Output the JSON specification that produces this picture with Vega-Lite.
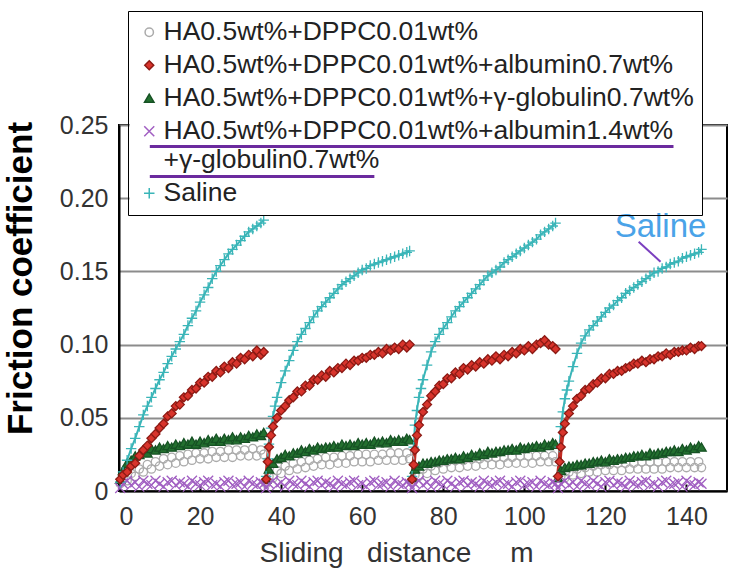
{
"$schema":"https://vega.github.io/schema/vega-lite/v6.json",
"width":608,"height":366,
"autosize":{"type":"none"},
"padding":{"left":119,"top":125,"right":21,"bottom":93},
"background":"white",
"config":{"view":{"stroke":"black","strokeWidth":2},"axis":{"labelFont":"Liberation Sans","titleFont":"Liberation Sans"}},
"data":{"values":[
{"s":"A","g":1,"x":0.3,"y":0.005},{"s":"A","g":1,"x":1,"y":0.008},{"s":"A","g":1,"x":2,"y":0.007},{"s":"A","g":1,"x":3,"y":0.012},{"s":"A","g":1,"x":4,"y":0.010},{"s":"A","g":1,"x":5,"y":0.015},{"s":"A","g":1,"x":6,"y":0.013},{"s":"A","g":1,"x":7,"y":0.018},{"s":"A","g":1,"x":8,"y":0.015},{"s":"A","g":1,"x":9,"y":0.020},{"s":"A","g":1,"x":10,"y":0.017},{"s":"A","g":1,"x":11,"y":0.022},{"s":"A","g":1,"x":12,"y":0.018},{"s":"A","g":1,"x":13,"y":0.023},{"s":"A","g":1,"x":14,"y":0.019},{"s":"A","g":1,"x":15,"y":0.024},{"s":"A","g":1,"x":16,"y":0.020},{"s":"A","g":1,"x":17,"y":0.025},{"s":"A","g":1,"x":18,"y":0.021},{"s":"A","g":1,"x":19,"y":0.026},{"s":"A","g":1,"x":20,"y":0.022},{"s":"A","g":1,"x":21,"y":0.026},{"s":"A","g":1,"x":22,"y":0.022},{"s":"A","g":1,"x":23,"y":0.027},{"s":"A","g":1,"x":24,"y":0.023},{"s":"A","g":1,"x":25,"y":0.027},{"s":"A","g":1,"x":26,"y":0.023},{"s":"A","g":1,"x":27,"y":0.028},{"s":"A","g":1,"x":28,"y":0.023},{"s":"A","g":1,"x":29,"y":0.028},{"s":"A","g":1,"x":30,"y":0.024},{"s":"A","g":1,"x":31,"y":0.028},{"s":"A","g":1,"x":32,"y":0.024},{"s":"A","g":1,"x":33,"y":0.029},{"s":"A","g":1,"x":34,"y":0.024},{"s":"A","g":1,"x":35,"y":0.028},{"s":"A","g":1,"x":35.7,"y":0.025},
{"s":"A","g":2,"x":36.3,"y":0.005},{"s":"A","g":2,"x":37,"y":0.010},{"s":"A","g":2,"x":38,"y":0.009},{"s":"A","g":2,"x":39,"y":0.014},{"s":"A","g":2,"x":40,"y":0.012},{"s":"A","g":2,"x":41,"y":0.017},{"s":"A","g":2,"x":42,"y":0.014},{"s":"A","g":2,"x":43,"y":0.019},{"s":"A","g":2,"x":44,"y":0.015},{"s":"A","g":2,"x":45,"y":0.020},{"s":"A","g":2,"x":46,"y":0.016},{"s":"A","g":2,"x":47,"y":0.021},{"s":"A","g":2,"x":48,"y":0.017},{"s":"A","g":2,"x":49,"y":0.022},{"s":"A","g":2,"x":50,"y":0.018},{"s":"A","g":2,"x":51,"y":0.023},{"s":"A","g":2,"x":52,"y":0.018},{"s":"A","g":2,"x":53,"y":0.023},{"s":"A","g":2,"x":54,"y":0.019},{"s":"A","g":2,"x":55,"y":0.024},{"s":"A","g":2,"x":56,"y":0.019},{"s":"A","g":2,"x":57,"y":0.024},{"s":"A","g":2,"x":58,"y":0.020},{"s":"A","g":2,"x":59,"y":0.025},{"s":"A","g":2,"x":60,"y":0.020},{"s":"A","g":2,"x":61,"y":0.025},{"s":"A","g":2,"x":62,"y":0.020},{"s":"A","g":2,"x":63,"y":0.025},{"s":"A","g":2,"x":64,"y":0.021},{"s":"A","g":2,"x":65,"y":0.025},{"s":"A","g":2,"x":66,"y":0.021},{"s":"A","g":2,"x":67,"y":0.026},{"s":"A","g":2,"x":68,"y":0.021},{"s":"A","g":2,"x":69,"y":0.026},{"s":"A","g":2,"x":70,"y":0.021},{"s":"A","g":2,"x":71,"y":0.026},{"s":"A","g":2,"x":71.7,"y":0.022},
{"s":"A","g":3,"x":72.3,"y":0.006},{"s":"A","g":3,"x":73,"y":0.011},{"s":"A","g":3,"x":74,"y":0.010},{"s":"A","g":3,"x":75,"y":0.015},{"s":"A","g":3,"x":76,"y":0.012},{"s":"A","g":3,"x":77,"y":0.017},{"s":"A","g":3,"x":78,"y":0.014},{"s":"A","g":3,"x":79,"y":0.019},{"s":"A","g":3,"x":80,"y":0.015},{"s":"A","g":3,"x":81,"y":0.020},{"s":"A","g":3,"x":82,"y":0.016},{"s":"A","g":3,"x":83,"y":0.021},{"s":"A","g":3,"x":84,"y":0.016},{"s":"A","g":3,"x":85,"y":0.021},{"s":"A","g":3,"x":86,"y":0.017},{"s":"A","g":3,"x":87,"y":0.022},{"s":"A","g":3,"x":88,"y":0.017},{"s":"A","g":3,"x":89,"y":0.022},{"s":"A","g":3,"x":90,"y":0.018},{"s":"A","g":3,"x":91,"y":0.023},{"s":"A","g":3,"x":92,"y":0.018},{"s":"A","g":3,"x":93,"y":0.023},{"s":"A","g":3,"x":94,"y":0.018},{"s":"A","g":3,"x":95,"y":0.023},{"s":"A","g":3,"x":96,"y":0.019},{"s":"A","g":3,"x":97,"y":0.023},{"s":"A","g":3,"x":98,"y":0.019},{"s":"A","g":3,"x":99,"y":0.024},{"s":"A","g":3,"x":100,"y":0.019},{"s":"A","g":3,"x":101,"y":0.024},{"s":"A","g":3,"x":102,"y":0.019},{"s":"A","g":3,"x":103,"y":0.024},{"s":"A","g":3,"x":104,"y":0.020},{"s":"A","g":3,"x":105,"y":0.024},{"s":"A","g":3,"x":106,"y":0.020},{"s":"A","g":3,"x":107,"y":0.024},{"s":"A","g":3,"x":107.7,"y":0.020},
{"s":"A","g":4,"x":108.3,"y":0.006},{"s":"A","g":4,"x":109,"y":0.010},{"s":"A","g":4,"x":110,"y":0.009},{"s":"A","g":4,"x":111,"y":0.013},{"s":"A","g":4,"x":112,"y":0.011},{"s":"A","g":4,"x":113,"y":0.015},{"s":"A","g":4,"x":114,"y":0.012},{"s":"A","g":4,"x":115,"y":0.016},{"s":"A","g":4,"x":116,"y":0.013},{"s":"A","g":4,"x":117,"y":0.017},{"s":"A","g":4,"x":118,"y":0.013},{"s":"A","g":4,"x":119,"y":0.018},{"s":"A","g":4,"x":120,"y":0.014},{"s":"A","g":4,"x":121,"y":0.018},{"s":"A","g":4,"x":122,"y":0.014},{"s":"A","g":4,"x":123,"y":0.019},{"s":"A","g":4,"x":124,"y":0.014},{"s":"A","g":4,"x":125,"y":0.019},{"s":"A","g":4,"x":126,"y":0.015},{"s":"A","g":4,"x":127,"y":0.019},{"s":"A","g":4,"x":128,"y":0.015},{"s":"A","g":4,"x":129,"y":0.020},{"s":"A","g":4,"x":130,"y":0.015},{"s":"A","g":4,"x":131,"y":0.020},{"s":"A","g":4,"x":132,"y":0.015},{"s":"A","g":4,"x":133,"y":0.020},{"s":"A","g":4,"x":134,"y":0.015},{"s":"A","g":4,"x":135,"y":0.020},{"s":"A","g":4,"x":136,"y":0.016},{"s":"A","g":4,"x":137,"y":0.020},{"s":"A","g":4,"x":138,"y":0.016},{"s":"A","g":4,"x":139,"y":0.020},{"s":"A","g":4,"x":140,"y":0.016},{"s":"A","g":4,"x":141,"y":0.020},{"s":"A","g":4,"x":142,"y":0.016},{"s":"A","g":4,"x":143,"y":0.020},{"s":"A","g":4,"x":143.7,"y":0.016},
{"s":"C","g":1,"x":0.3,"y":0.008},{"s":"C","g":1,"x":1,"y":0.014},{"s":"C","g":1,"x":2,"y":0.019},{"s":"C","g":1,"x":3,"y":0.021},{"s":"C","g":1,"x":4,"y":0.024},{"s":"C","g":1,"x":5,"y":0.025},{"s":"C","g":1,"x":6,"y":0.027},{"s":"C","g":1,"x":7,"y":0.026},{"s":"C","g":1,"x":8,"y":0.029},{"s":"C","g":1,"x":9,"y":0.028},{"s":"C","g":1,"x":10,"y":0.030},{"s":"C","g":1,"x":11,"y":0.029},{"s":"C","g":1,"x":12,"y":0.031},{"s":"C","g":1,"x":13,"y":0.030},{"s":"C","g":1,"x":14,"y":0.032},{"s":"C","g":1,"x":15,"y":0.031},{"s":"C","g":1,"x":16,"y":0.033},{"s":"C","g":1,"x":17,"y":0.032},{"s":"C","g":1,"x":18,"y":0.034},{"s":"C","g":1,"x":19,"y":0.032},{"s":"C","g":1,"x":20,"y":0.034},{"s":"C","g":1,"x":21,"y":0.033},{"s":"C","g":1,"x":22,"y":0.035},{"s":"C","g":1,"x":23,"y":0.034},{"s":"C","g":1,"x":24,"y":0.036},{"s":"C","g":1,"x":25,"y":0.034},{"s":"C","g":1,"x":26,"y":0.036},{"s":"C","g":1,"x":27,"y":0.035},{"s":"C","g":1,"x":28,"y":0.037},{"s":"C","g":1,"x":29,"y":0.035},{"s":"C","g":1,"x":30,"y":0.037},{"s":"C","g":1,"x":31,"y":0.036},{"s":"C","g":1,"x":32,"y":0.038},{"s":"C","g":1,"x":33,"y":0.037},{"s":"C","g":1,"x":34,"y":0.039},{"s":"C","g":1,"x":35,"y":0.038},{"s":"C","g":1,"x":35.7,"y":0.040},
{"s":"C","g":2,"x":36.3,"y":0.008},{"s":"C","g":2,"x":37,"y":0.015},{"s":"C","g":2,"x":38,"y":0.019},{"s":"C","g":2,"x":39,"y":0.022},{"s":"C","g":2,"x":40,"y":0.023},{"s":"C","g":2,"x":41,"y":0.025},{"s":"C","g":2,"x":42,"y":0.024},{"s":"C","g":2,"x":43,"y":0.026},{"s":"C","g":2,"x":44,"y":0.026},{"s":"C","g":2,"x":45,"y":0.028},{"s":"C","g":2,"x":46,"y":0.027},{"s":"C","g":2,"x":47,"y":0.029},{"s":"C","g":2,"x":48,"y":0.028},{"s":"C","g":2,"x":49,"y":0.030},{"s":"C","g":2,"x":50,"y":0.029},{"s":"C","g":2,"x":51,"y":0.030},{"s":"C","g":2,"x":52,"y":0.030},{"s":"C","g":2,"x":53,"y":0.031},{"s":"C","g":2,"x":54,"y":0.030},{"s":"C","g":2,"x":55,"y":0.032},{"s":"C","g":2,"x":56,"y":0.031},{"s":"C","g":2,"x":57,"y":0.032},{"s":"C","g":2,"x":58,"y":0.031},{"s":"C","g":2,"x":59,"y":0.033},{"s":"C","g":2,"x":60,"y":0.032},{"s":"C","g":2,"x":61,"y":0.033},{"s":"C","g":2,"x":62,"y":0.032},{"s":"C","g":2,"x":63,"y":0.034},{"s":"C","g":2,"x":64,"y":0.033},{"s":"C","g":2,"x":65,"y":0.034},{"s":"C","g":2,"x":66,"y":0.033},{"s":"C","g":2,"x":67,"y":0.035},{"s":"C","g":2,"x":68,"y":0.034},{"s":"C","g":2,"x":69,"y":0.035},{"s":"C","g":2,"x":70,"y":0.034},{"s":"C","g":2,"x":71,"y":0.036},{"s":"C","g":2,"x":71.7,"y":0.035},
{"s":"C","g":3,"x":72.3,"y":0.009},{"s":"C","g":3,"x":73,"y":0.015},{"s":"C","g":3,"x":74,"y":0.017},{"s":"C","g":3,"x":75,"y":0.019},{"s":"C","g":3,"x":76,"y":0.019},{"s":"C","g":3,"x":77,"y":0.020},{"s":"C","g":3,"x":78,"y":0.020},{"s":"C","g":3,"x":79,"y":0.021},{"s":"C","g":3,"x":80,"y":0.021},{"s":"C","g":3,"x":81,"y":0.022},{"s":"C","g":3,"x":82,"y":0.022},{"s":"C","g":3,"x":83,"y":0.023},{"s":"C","g":3,"x":84,"y":0.022},{"s":"C","g":3,"x":85,"y":0.024},{"s":"C","g":3,"x":86,"y":0.023},{"s":"C","g":3,"x":87,"y":0.025},{"s":"C","g":3,"x":88,"y":0.024},{"s":"C","g":3,"x":89,"y":0.026},{"s":"C","g":3,"x":90,"y":0.025},{"s":"C","g":3,"x":91,"y":0.027},{"s":"C","g":3,"x":92,"y":0.026},{"s":"C","g":3,"x":93,"y":0.027},{"s":"C","g":3,"x":94,"y":0.027},{"s":"C","g":3,"x":95,"y":0.028},{"s":"C","g":3,"x":96,"y":0.028},{"s":"C","g":3,"x":97,"y":0.029},{"s":"C","g":3,"x":98,"y":0.028},{"s":"C","g":3,"x":99,"y":0.030},{"s":"C","g":3,"x":100,"y":0.029},{"s":"C","g":3,"x":101,"y":0.030},{"s":"C","g":3,"x":102,"y":0.030},{"s":"C","g":3,"x":103,"y":0.031},{"s":"C","g":3,"x":104,"y":0.030},{"s":"C","g":3,"x":105,"y":0.032},{"s":"C","g":3,"x":106,"y":0.031},{"s":"C","g":3,"x":107,"y":0.033},{"s":"C","g":3,"x":107.7,"y":0.032},
{"s":"C","g":4,"x":108.3,"y":0.009},{"s":"C","g":4,"x":109,"y":0.014},{"s":"C","g":4,"x":110,"y":0.016},{"s":"C","g":4,"x":111,"y":0.017},{"s":"C","g":4,"x":112,"y":0.017},{"s":"C","g":4,"x":113,"y":0.018},{"s":"C","g":4,"x":114,"y":0.018},{"s":"C","g":4,"x":115,"y":0.019},{"s":"C","g":4,"x":116,"y":0.019},{"s":"C","g":4,"x":117,"y":0.020},{"s":"C","g":4,"x":118,"y":0.020},{"s":"C","g":4,"x":119,"y":0.021},{"s":"C","g":4,"x":120,"y":0.020},{"s":"C","g":4,"x":121,"y":0.022},{"s":"C","g":4,"x":122,"y":0.021},{"s":"C","g":4,"x":123,"y":0.022},{"s":"C","g":4,"x":124,"y":0.022},{"s":"C","g":4,"x":125,"y":0.023},{"s":"C","g":4,"x":126,"y":0.023},{"s":"C","g":4,"x":127,"y":0.024},{"s":"C","g":4,"x":128,"y":0.024},{"s":"C","g":4,"x":129,"y":0.025},{"s":"C","g":4,"x":130,"y":0.024},{"s":"C","g":4,"x":131,"y":0.026},{"s":"C","g":4,"x":132,"y":0.025},{"s":"C","g":4,"x":133,"y":0.026},{"s":"C","g":4,"x":134,"y":0.026},{"s":"C","g":4,"x":135,"y":0.027},{"s":"C","g":4,"x":136,"y":0.027},{"s":"C","g":4,"x":137,"y":0.028},{"s":"C","g":4,"x":138,"y":0.027},{"s":"C","g":4,"x":139,"y":0.029},{"s":"C","g":4,"x":140,"y":0.028},{"s":"C","g":4,"x":141,"y":0.030},{"s":"C","g":4,"x":142,"y":0.029},{"s":"C","g":4,"x":143,"y":0.031},{"s":"C","g":4,"x":143.7,"y":0.030},
{"s":"D","g":1,"x":0.3,"y":0.002},{"s":"D","g":1,"x":1,"y":0.005},{"s":"D","g":1,"x":2,"y":0.007},{"s":"D","g":1,"x":3,"y":0.004},{"s":"D","g":1,"x":4,"y":0.006},{"s":"D","g":1,"x":5,"y":0.003},{"s":"D","g":1,"x":6,"y":0.007},{"s":"D","g":1,"x":7,"y":0.005},{"s":"D","g":1,"x":8,"y":0.004},{"s":"D","g":1,"x":9,"y":0.007},{"s":"D","g":1,"x":10,"y":0.005},{"s":"D","g":1,"x":11,"y":0.003},{"s":"D","g":1,"x":12,"y":0.006},{"s":"D","g":1,"x":13,"y":0.007},{"s":"D","g":1,"x":14,"y":0.004},{"s":"D","g":1,"x":15,"y":0.006},{"s":"D","g":1,"x":16,"y":0.005},{"s":"D","g":1,"x":17,"y":0.003},{"s":"D","g":1,"x":18,"y":0.007},{"s":"D","g":1,"x":19,"y":0.005},{"s":"D","g":1,"x":20,"y":0.004},{"s":"D","g":1,"x":21,"y":0.006},{"s":"D","g":1,"x":22,"y":0.007},{"s":"D","g":1,"x":23,"y":0.004},{"s":"D","g":1,"x":24,"y":0.005},{"s":"D","g":1,"x":25,"y":0.003},{"s":"D","g":1,"x":26,"y":0.006},{"s":"D","g":1,"x":27,"y":0.007},{"s":"D","g":1,"x":28,"y":0.004},{"s":"D","g":1,"x":29,"y":0.005},{"s":"D","g":1,"x":30,"y":0.006},{"s":"D","g":1,"x":31,"y":0.003},{"s":"D","g":1,"x":32,"y":0.007},{"s":"D","g":1,"x":33,"y":0.005},{"s":"D","g":1,"x":34,"y":0.004},{"s":"D","g":1,"x":35,"y":0.006},{"s":"D","g":1,"x":35.7,"y":0.005},
{"s":"D","g":2,"x":36.3,"y":0.002},{"s":"D","g":2,"x":37,"y":0.005},{"s":"D","g":2,"x":38,"y":0.007},{"s":"D","g":2,"x":39,"y":0.004},{"s":"D","g":2,"x":40,"y":0.006},{"s":"D","g":2,"x":41,"y":0.003},{"s":"D","g":2,"x":42,"y":0.007},{"s":"D","g":2,"x":43,"y":0.005},{"s":"D","g":2,"x":44,"y":0.004},{"s":"D","g":2,"x":45,"y":0.007},{"s":"D","g":2,"x":46,"y":0.005},{"s":"D","g":2,"x":47,"y":0.003},{"s":"D","g":2,"x":48,"y":0.006},{"s":"D","g":2,"x":49,"y":0.007},{"s":"D","g":2,"x":50,"y":0.004},{"s":"D","g":2,"x":51,"y":0.006},{"s":"D","g":2,"x":52,"y":0.005},{"s":"D","g":2,"x":53,"y":0.003},{"s":"D","g":2,"x":54,"y":0.007},{"s":"D","g":2,"x":55,"y":0.005},{"s":"D","g":2,"x":56,"y":0.004},{"s":"D","g":2,"x":57,"y":0.006},{"s":"D","g":2,"x":58,"y":0.007},{"s":"D","g":2,"x":59,"y":0.004},{"s":"D","g":2,"x":60,"y":0.005},{"s":"D","g":2,"x":61,"y":0.003},{"s":"D","g":2,"x":62,"y":0.006},{"s":"D","g":2,"x":63,"y":0.007},{"s":"D","g":2,"x":64,"y":0.004},{"s":"D","g":2,"x":65,"y":0.005},{"s":"D","g":2,"x":66,"y":0.006},{"s":"D","g":2,"x":67,"y":0.003},{"s":"D","g":2,"x":68,"y":0.007},{"s":"D","g":2,"x":69,"y":0.005},{"s":"D","g":2,"x":70,"y":0.004},{"s":"D","g":2,"x":71,"y":0.006},{"s":"D","g":2,"x":71.7,"y":0.005},
{"s":"D","g":3,"x":72.3,"y":0.002},{"s":"D","g":3,"x":73,"y":0.005},{"s":"D","g":3,"x":74,"y":0.007},{"s":"D","g":3,"x":75,"y":0.004},{"s":"D","g":3,"x":76,"y":0.006},{"s":"D","g":3,"x":77,"y":0.003},{"s":"D","g":3,"x":78,"y":0.007},{"s":"D","g":3,"x":79,"y":0.005},{"s":"D","g":3,"x":80,"y":0.004},{"s":"D","g":3,"x":81,"y":0.007},{"s":"D","g":3,"x":82,"y":0.005},{"s":"D","g":3,"x":83,"y":0.003},{"s":"D","g":3,"x":84,"y":0.006},{"s":"D","g":3,"x":85,"y":0.007},{"s":"D","g":3,"x":86,"y":0.004},{"s":"D","g":3,"x":87,"y":0.006},{"s":"D","g":3,"x":88,"y":0.005},{"s":"D","g":3,"x":89,"y":0.003},{"s":"D","g":3,"x":90,"y":0.007},{"s":"D","g":3,"x":91,"y":0.005},{"s":"D","g":3,"x":92,"y":0.004},{"s":"D","g":3,"x":93,"y":0.006},{"s":"D","g":3,"x":94,"y":0.007},{"s":"D","g":3,"x":95,"y":0.004},{"s":"D","g":3,"x":96,"y":0.005},{"s":"D","g":3,"x":97,"y":0.003},{"s":"D","g":3,"x":98,"y":0.006},{"s":"D","g":3,"x":99,"y":0.007},{"s":"D","g":3,"x":100,"y":0.004},{"s":"D","g":3,"x":101,"y":0.005},{"s":"D","g":3,"x":102,"y":0.006},{"s":"D","g":3,"x":103,"y":0.003},{"s":"D","g":3,"x":104,"y":0.007},{"s":"D","g":3,"x":105,"y":0.005},{"s":"D","g":3,"x":106,"y":0.004},{"s":"D","g":3,"x":107,"y":0.006},{"s":"D","g":3,"x":107.7,"y":0.005},
{"s":"D","g":4,"x":108.3,"y":0.002},{"s":"D","g":4,"x":109,"y":0.005},{"s":"D","g":4,"x":110,"y":0.007},{"s":"D","g":4,"x":111,"y":0.004},{"s":"D","g":4,"x":112,"y":0.006},{"s":"D","g":4,"x":113,"y":0.003},{"s":"D","g":4,"x":114,"y":0.007},{"s":"D","g":4,"x":115,"y":0.005},{"s":"D","g":4,"x":116,"y":0.004},{"s":"D","g":4,"x":117,"y":0.007},{"s":"D","g":4,"x":118,"y":0.005},{"s":"D","g":4,"x":119,"y":0.003},{"s":"D","g":4,"x":120,"y":0.006},{"s":"D","g":4,"x":121,"y":0.007},{"s":"D","g":4,"x":122,"y":0.004},{"s":"D","g":4,"x":123,"y":0.006},{"s":"D","g":4,"x":124,"y":0.005},{"s":"D","g":4,"x":125,"y":0.003},{"s":"D","g":4,"x":126,"y":0.007},{"s":"D","g":4,"x":127,"y":0.005},{"s":"D","g":4,"x":128,"y":0.004},{"s":"D","g":4,"x":129,"y":0.006},{"s":"D","g":4,"x":130,"y":0.007},{"s":"D","g":4,"x":131,"y":0.004},{"s":"D","g":4,"x":132,"y":0.005},{"s":"D","g":4,"x":133,"y":0.003},{"s":"D","g":4,"x":134,"y":0.006},{"s":"D","g":4,"x":135,"y":0.007},{"s":"D","g":4,"x":136,"y":0.004},{"s":"D","g":4,"x":137,"y":0.005},{"s":"D","g":4,"x":138,"y":0.006},{"s":"D","g":4,"x":139,"y":0.003},{"s":"D","g":4,"x":140,"y":0.007},{"s":"D","g":4,"x":141,"y":0.005},{"s":"D","g":4,"x":142,"y":0.004},{"s":"D","g":4,"x":143,"y":0.006},{"s":"D","g":4,"x":143.7,"y":0.005},
{"s":"E","g":1,"x":0.3,"y":0.006},{"s":"E","g":1,"x":1,"y":0.013},{"s":"E","g":1,"x":2,"y":0.021},{"s":"E","g":1,"x":3,"y":0.029},{"s":"E","g":1,"x":4,"y":0.036},{"s":"E","g":1,"x":5,"y":0.044},{"s":"E","g":1,"x":6,"y":0.052},{"s":"E","g":1,"x":7,"y":0.058},{"s":"E","g":1,"x":8,"y":0.064},{"s":"E","g":1,"x":9,"y":0.070},{"s":"E","g":1,"x":10,"y":0.076},{"s":"E","g":1,"x":11,"y":0.081},{"s":"E","g":1,"x":12,"y":0.087},{"s":"E","g":1,"x":13,"y":0.092},{"s":"E","g":1,"x":14,"y":0.097},{"s":"E","g":1,"x":15,"y":0.102},{"s":"E","g":1,"x":16,"y":0.107},{"s":"E","g":1,"x":17,"y":0.113},{"s":"E","g":1,"x":18,"y":0.118},{"s":"E","g":1,"x":19,"y":0.123},{"s":"E","g":1,"x":20,"y":0.129},{"s":"E","g":1,"x":21,"y":0.134},{"s":"E","g":1,"x":22,"y":0.139},{"s":"E","g":1,"x":23,"y":0.145},{"s":"E","g":1,"x":24,"y":0.150},{"s":"E","g":1,"x":25,"y":0.154},{"s":"E","g":1,"x":26,"y":0.158},{"s":"E","g":1,"x":27,"y":0.162},{"s":"E","g":1,"x":28,"y":0.165},{"s":"E","g":1,"x":29,"y":0.168},{"s":"E","g":1,"x":30,"y":0.171},{"s":"E","g":1,"x":31,"y":0.174},{"s":"E","g":1,"x":32,"y":0.177},{"s":"E","g":1,"x":33,"y":0.179},{"s":"E","g":1,"x":34,"y":0.181},{"s":"E","g":1,"x":35,"y":0.183},{"s":"E","g":1,"x":35.7,"y":0.185},
{"s":"E","g":2,"x":36.3,"y":0.010},{"s":"E","g":2,"x":36.7,"y":0.022},{"s":"E","g":2,"x":37,"y":0.032},{"s":"E","g":2,"x":37.5,"y":0.043},{"s":"E","g":2,"x":38,"y":0.051},{"s":"E","g":2,"x":38.5,"y":0.058},{"s":"E","g":2,"x":39,"y":0.064},{"s":"E","g":2,"x":40,"y":0.074},{"s":"E","g":2,"x":41,"y":0.082},{"s":"E","g":2,"x":42,"y":0.089},{"s":"E","g":2,"x":43,"y":0.096},{"s":"E","g":2,"x":44,"y":0.102},{"s":"E","g":2,"x":45,"y":0.107},{"s":"E","g":2,"x":46,"y":0.111},{"s":"E","g":2,"x":47,"y":0.115},{"s":"E","g":2,"x":48,"y":0.119},{"s":"E","g":2,"x":49,"y":0.123},{"s":"E","g":2,"x":50,"y":0.126},{"s":"E","g":2,"x":51,"y":0.129},{"s":"E","g":2,"x":52,"y":0.132},{"s":"E","g":2,"x":53,"y":0.135},{"s":"E","g":2,"x":54,"y":0.138},{"s":"E","g":2,"x":55,"y":0.141},{"s":"E","g":2,"x":56,"y":0.143},{"s":"E","g":2,"x":57,"y":0.145},{"s":"E","g":2,"x":58,"y":0.147},{"s":"E","g":2,"x":59,"y":0.149},{"s":"E","g":2,"x":60,"y":0.151},{"s":"E","g":2,"x":61,"y":0.152},{"s":"E","g":2,"x":62,"y":0.154},{"s":"E","g":2,"x":63,"y":0.155},{"s":"E","g":2,"x":64,"y":0.156},{"s":"E","g":2,"x":65,"y":0.157},{"s":"E","g":2,"x":66,"y":0.158},{"s":"E","g":2,"x":67,"y":0.159},{"s":"E","g":2,"x":68,"y":0.160},{"s":"E","g":2,"x":69,"y":0.161},{"s":"E","g":2,"x":70,"y":0.162},{"s":"E","g":2,"x":71,"y":0.163},{"s":"E","g":2,"x":71.7,"y":0.164},
{"s":"E","g":3,"x":72.3,"y":0.010},{"s":"E","g":3,"x":72.7,"y":0.030},{"s":"E","g":3,"x":73,"y":0.045},{"s":"E","g":3,"x":73.5,"y":0.055},{"s":"E","g":3,"x":74,"y":0.064},{"s":"E","g":3,"x":74.5,"y":0.070},{"s":"E","g":3,"x":75,"y":0.076},{"s":"E","g":3,"x":76,"y":0.086},{"s":"E","g":3,"x":77,"y":0.095},{"s":"E","g":3,"x":78,"y":0.102},{"s":"E","g":3,"x":79,"y":0.107},{"s":"E","g":3,"x":80,"y":0.111},{"s":"E","g":3,"x":81,"y":0.115},{"s":"E","g":3,"x":82,"y":0.119},{"s":"E","g":3,"x":83,"y":0.123},{"s":"E","g":3,"x":84,"y":0.126},{"s":"E","g":3,"x":85,"y":0.129},{"s":"E","g":3,"x":86,"y":0.132},{"s":"E","g":3,"x":87,"y":0.135},{"s":"E","g":3,"x":88,"y":0.138},{"s":"E","g":3,"x":89,"y":0.141},{"s":"E","g":3,"x":90,"y":0.144},{"s":"E","g":3,"x":91,"y":0.147},{"s":"E","g":3,"x":92,"y":0.149},{"s":"E","g":3,"x":93,"y":0.151},{"s":"E","g":3,"x":94,"y":0.153},{"s":"E","g":3,"x":95,"y":0.156},{"s":"E","g":3,"x":96,"y":0.158},{"s":"E","g":3,"x":97,"y":0.160},{"s":"E","g":3,"x":98,"y":0.162},{"s":"E","g":3,"x":99,"y":0.164},{"s":"E","g":3,"x":100,"y":0.166},{"s":"E","g":3,"x":101,"y":0.168},{"s":"E","g":3,"x":102,"y":0.170},{"s":"E","g":3,"x":103,"y":0.172},{"s":"E","g":3,"x":104,"y":0.175},{"s":"E","g":3,"x":105,"y":0.177},{"s":"E","g":3,"x":106,"y":0.179},{"s":"E","g":3,"x":107,"y":0.181},{"s":"E","g":3,"x":107.7,"y":0.183},
{"s":"E","g":4,"x":108.3,"y":0.010},{"s":"E","g":4,"x":108.7,"y":0.030},{"s":"E","g":4,"x":109,"y":0.044},{"s":"E","g":4,"x":109.5,"y":0.054},{"s":"E","g":4,"x":110,"y":0.063},{"s":"E","g":4,"x":110.5,"y":0.069},{"s":"E","g":4,"x":111,"y":0.075},{"s":"E","g":4,"x":112,"y":0.085},{"s":"E","g":4,"x":113,"y":0.094},{"s":"E","g":4,"x":114,"y":0.101},{"s":"E","g":4,"x":115,"y":0.106},{"s":"E","g":4,"x":116,"y":0.110},{"s":"E","g":4,"x":117,"y":0.113},{"s":"E","g":4,"x":118,"y":0.116},{"s":"E","g":4,"x":119,"y":0.119},{"s":"E","g":4,"x":120,"y":0.122},{"s":"E","g":4,"x":121,"y":0.125},{"s":"E","g":4,"x":122,"y":0.127},{"s":"E","g":4,"x":123,"y":0.130},{"s":"E","g":4,"x":124,"y":0.132},{"s":"E","g":4,"x":125,"y":0.135},{"s":"E","g":4,"x":126,"y":0.137},{"s":"E","g":4,"x":127,"y":0.139},{"s":"E","g":4,"x":128,"y":0.141},{"s":"E","g":4,"x":129,"y":0.143},{"s":"E","g":4,"x":130,"y":0.145},{"s":"E","g":4,"x":131,"y":0.147},{"s":"E","g":4,"x":132,"y":0.149},{"s":"E","g":4,"x":133,"y":0.150},{"s":"E","g":4,"x":134,"y":0.152},{"s":"E","g":4,"x":135,"y":0.153},{"s":"E","g":4,"x":136,"y":0.155},{"s":"E","g":4,"x":137,"y":0.156},{"s":"E","g":4,"x":138,"y":0.157},{"s":"E","g":4,"x":139,"y":0.159},{"s":"E","g":4,"x":140,"y":0.160},{"s":"E","g":4,"x":141,"y":0.161},{"s":"E","g":4,"x":142,"y":0.162},{"s":"E","g":4,"x":143,"y":0.163},{"s":"E","g":4,"x":143.7,"y":0.165},
{"s":"B","g":1,"x":0.3,"y":0.008},{"s":"B","g":1,"x":1,"y":0.011},{"s":"B","g":1,"x":2,"y":0.013},{"s":"B","g":1,"x":3,"y":0.017},{"s":"B","g":1,"x":4,"y":0.019},{"s":"B","g":1,"x":5,"y":0.024},{"s":"B","g":1,"x":6,"y":0.028},{"s":"B","g":1,"x":7,"y":0.031},{"s":"B","g":1,"x":8,"y":0.036},{"s":"B","g":1,"x":9,"y":0.039},{"s":"B","g":1,"x":10,"y":0.043},{"s":"B","g":1,"x":11,"y":0.046},{"s":"B","g":1,"x":12,"y":0.051},{"s":"B","g":1,"x":13,"y":0.053},{"s":"B","g":1,"x":14,"y":0.058},{"s":"B","g":1,"x":15,"y":0.059},{"s":"B","g":1,"x":16,"y":0.064},{"s":"B","g":1,"x":17,"y":0.065},{"s":"B","g":1,"x":18,"y":0.069},{"s":"B","g":1,"x":19,"y":0.070},{"s":"B","g":1,"x":20,"y":0.074},{"s":"B","g":1,"x":21,"y":0.074},{"s":"B","g":1,"x":22,"y":0.078},{"s":"B","g":1,"x":23,"y":0.078},{"s":"B","g":1,"x":24,"y":0.082},{"s":"B","g":1,"x":25,"y":0.081},{"s":"B","g":1,"x":26,"y":0.085},{"s":"B","g":1,"x":27,"y":0.084},{"s":"B","g":1,"x":28,"y":0.088},{"s":"B","g":1,"x":29,"y":0.087},{"s":"B","g":1,"x":30,"y":0.091},{"s":"B","g":1,"x":31,"y":0.090},{"s":"B","g":1,"x":32,"y":0.093},{"s":"B","g":1,"x":33,"y":0.092},{"s":"B","g":1,"x":34,"y":0.096},{"s":"B","g":1,"x":35,"y":0.093},{"s":"B","g":1,"x":35.7,"y":0.095},
{"s":"B","g":2,"x":36.3,"y":0.008},{"s":"B","g":2,"x":36.7,"y":0.020},{"s":"B","g":2,"x":37,"y":0.030},{"s":"B","g":2,"x":37.5,"y":0.038},{"s":"B","g":2,"x":38,"y":0.044},{"s":"B","g":2,"x":39,"y":0.050},{"s":"B","g":2,"x":40,"y":0.055},{"s":"B","g":2,"x":41,"y":0.058},{"s":"B","g":2,"x":42,"y":0.062},{"s":"B","g":2,"x":43,"y":0.064},{"s":"B","g":2,"x":44,"y":0.068},{"s":"B","g":2,"x":45,"y":0.068},{"s":"B","g":2,"x":46,"y":0.072},{"s":"B","g":2,"x":47,"y":0.072},{"s":"B","g":2,"x":48,"y":0.076},{"s":"B","g":2,"x":49,"y":0.076},{"s":"B","g":2,"x":50,"y":0.079},{"s":"B","g":2,"x":51,"y":0.078},{"s":"B","g":2,"x":52,"y":0.082},{"s":"B","g":2,"x":53,"y":0.081},{"s":"B","g":2,"x":54,"y":0.084},{"s":"B","g":2,"x":55,"y":0.084},{"s":"B","g":2,"x":56,"y":0.087},{"s":"B","g":2,"x":57,"y":0.086},{"s":"B","g":2,"x":58,"y":0.089},{"s":"B","g":2,"x":59,"y":0.089},{"s":"B","g":2,"x":60,"y":0.091},{"s":"B","g":2,"x":61,"y":0.091},{"s":"B","g":2,"x":62,"y":0.093},{"s":"B","g":2,"x":63,"y":0.093},{"s":"B","g":2,"x":64,"y":0.095},{"s":"B","g":2,"x":65,"y":0.094},{"s":"B","g":2,"x":66,"y":0.097},{"s":"B","g":2,"x":67,"y":0.096},{"s":"B","g":2,"x":68,"y":0.098},{"s":"B","g":2,"x":69,"y":0.097},{"s":"B","g":2,"x":70,"y":0.100},{"s":"B","g":2,"x":71,"y":0.098},{"s":"B","g":2,"x":71.7,"y":0.100},
{"s":"B","g":3,"x":72.3,"y":0.008},{"s":"B","g":3,"x":72.7,"y":0.018},{"s":"B","g":3,"x":73,"y":0.028},{"s":"B","g":3,"x":73.5,"y":0.038},{"s":"B","g":3,"x":74,"y":0.045},{"s":"B","g":3,"x":75,"y":0.054},{"s":"B","g":3,"x":76,"y":0.059},{"s":"B","g":3,"x":77,"y":0.065},{"s":"B","g":3,"x":78,"y":0.068},{"s":"B","g":3,"x":79,"y":0.072},{"s":"B","g":3,"x":80,"y":0.073},{"s":"B","g":3,"x":81,"y":0.077},{"s":"B","g":3,"x":82,"y":0.077},{"s":"B","g":3,"x":83,"y":0.081},{"s":"B","g":3,"x":84,"y":0.080},{"s":"B","g":3,"x":85,"y":0.084},{"s":"B","g":3,"x":86,"y":0.083},{"s":"B","g":3,"x":87,"y":0.086},{"s":"B","g":3,"x":88,"y":0.085},{"s":"B","g":3,"x":89,"y":0.088},{"s":"B","g":3,"x":90,"y":0.087},{"s":"B","g":3,"x":91,"y":0.090},{"s":"B","g":3,"x":92,"y":0.089},{"s":"B","g":3,"x":93,"y":0.092},{"s":"B","g":3,"x":94,"y":0.090},{"s":"B","g":3,"x":95,"y":0.093},{"s":"B","g":3,"x":96,"y":0.092},{"s":"B","g":3,"x":97,"y":0.095},{"s":"B","g":3,"x":98,"y":0.094},{"s":"B","g":3,"x":99,"y":0.097},{"s":"B","g":3,"x":100,"y":0.096},{"s":"B","g":3,"x":101,"y":0.099},{"s":"B","g":3,"x":102,"y":0.097},{"s":"B","g":3,"x":103,"y":0.100},{"s":"B","g":3,"x":104,"y":0.101},{"s":"B","g":3,"x":105,"y":0.103},{"s":"B","g":3,"x":106,"y":0.100},{"s":"B","g":3,"x":107,"y":0.099},{"s":"B","g":3,"x":107.7,"y":0.097},
{"s":"B","g":4,"x":108.3,"y":0.010},{"s":"B","g":4,"x":108.7,"y":0.020},{"s":"B","g":4,"x":109,"y":0.030},{"s":"B","g":4,"x":109.5,"y":0.040},{"s":"B","g":4,"x":110,"y":0.046},{"s":"B","g":4,"x":111,"y":0.053},{"s":"B","g":4,"x":112,"y":0.058},{"s":"B","g":4,"x":113,"y":0.063},{"s":"B","g":4,"x":114,"y":0.065},{"s":"B","g":4,"x":115,"y":0.069},{"s":"B","g":4,"x":116,"y":0.070},{"s":"B","g":4,"x":117,"y":0.073},{"s":"B","g":4,"x":118,"y":0.074},{"s":"B","g":4,"x":119,"y":0.077},{"s":"B","g":4,"x":120,"y":0.077},{"s":"B","g":4,"x":121,"y":0.080},{"s":"B","g":4,"x":122,"y":0.080},{"s":"B","g":4,"x":123,"y":0.082},{"s":"B","g":4,"x":124,"y":0.082},{"s":"B","g":4,"x":125,"y":0.084},{"s":"B","g":4,"x":126,"y":0.085},{"s":"B","g":4,"x":127,"y":0.087},{"s":"B","g":4,"x":128,"y":0.087},{"s":"B","g":4,"x":129,"y":0.089},{"s":"B","g":4,"x":130,"y":0.088},{"s":"B","g":4,"x":131,"y":0.090},{"s":"B","g":4,"x":132,"y":0.090},{"s":"B","g":4,"x":133,"y":0.092},{"s":"B","g":4,"x":134,"y":0.092},{"s":"B","g":4,"x":135,"y":0.094},{"s":"B","g":4,"x":136,"y":0.093},{"s":"B","g":4,"x":137,"y":0.095},{"s":"B","g":4,"x":138,"y":0.095},{"s":"B","g":4,"x":139,"y":0.096},{"s":"B","g":4,"x":140,"y":0.096},{"s":"B","g":4,"x":141,"y":0.098},{"s":"B","g":4,"x":142,"y":0.097},{"s":"B","g":4,"x":143,"y":0.099},{"s":"B","g":4,"x":143.7,"y":0.099}
]},
"layer":[
{"transform":[{"filter":"datum.s=='E'"}],
 "mark":{"type":"line","color":"#3ab5b8","strokeWidth":2},
 "encoding":{"x":{"field":"x","type":"quantitative","scale":{"domain":[0,150],"nice":false,"zero":false},
   "axis":{"values":[0,20,40,60,80,100,120,140],"grid":false,"tickSize":-7,"tickWidth":2,"tickColor":"black","domainColor":"black","domainWidth":2,"labelFontSize":25,"labelColor":"#333","labelPadding":20,"title":"Sliding\u00a0\u00a0 distance\u00a0\u00a0\u00a0\u00a0 m","titleFontSize":28,"titleFontWeight":"normal","titleColor":"#333","titleX":277,"titleY":62,"titleBaseline":"middle","titleAlign":"center"}},
  "y":{"field":"y","type":"quantitative","scale":{"domain":[0,0.25],"nice":false,"zero":false},
   "axis":{"values":[0,0.05,0.1,0.15,0.2,0.25],"labelExpr":"datum.value==0?'0':format(datum.value,'.2f')","grid":true,"gridColor":"#8c8c8c","gridWidth":2,"ticks":false,"domainColor":"black","domainWidth":2,"labelFontSize":25,"labelColor":"#333","labelPadding":11,"title":"Friction coefficient","titleFontSize":35,"titleFontWeight":"bold","titleColor":"black","titleX":-99,"titleY":153,"titleAngle":270,"titleBaseline":"middle","titleAlign":"center"}},
  "detail":{"field":"g"}}},
{"transform":[{"filter":"datum.s=='B'"}],
 "mark":{"type":"line","color":"#c22a22","strokeWidth":4},
 "encoding":{"x":{"field":"x","type":"quantitative"},"y":{"field":"y","type":"quantitative"},"detail":{"field":"g"}}},
{"mark":{"type":"point","filled":true,"strokeWidth":1.3,"opacity":1},
 "encoding":{"x":{"field":"x","type":"quantitative"},"y":{"field":"y","type":"quantitative"},
  "shape":{"field":"s","type":"nominal","scale":{"domain":["A","B","C","D","E"],"range":["circle","diamond","triangle-up","M-1,-1L1,1M-1,1L1,-1","M-1,0L1,0M0,-1L0,1"]},
   "legend":{"orient":"none","legendX":9,"legendY":-114,"title":null,"zindex":1,"labelFont":"Liberation Sans","labelFontSize":26.5,"labelColor":"#222","labelLimit":1000,"labelOffset":1,"strokeColor":"black","fillColor":"transparent","padding":8,"rowPadding":6,"symbolStrokeWidth":1.5,
   "labelExpr":"datum.value=='A'?'HA0.5wt%+DPPC0.01wt%':datum.value=='B'?'HA0.5wt%+DPPC0.01wt%+albumin0.7wt%':datum.value=='C'?'HA0.5wt%+DPPC0.01wt%+γ-globulin0.7wt%':datum.value=='D'?['HA0.5wt%+DPPC0.01wt%+albumin1.4wt%','+γ-globulin0.7wt%']:'Saline'"}},
  "fill":{"field":"s","type":"nominal","scale":{"domain":["A","B","C","D","E"],"range":["transparent","#d8342c","#23702f","transparent","transparent"]}},
  "stroke":{"field":"s","type":"nominal","scale":{"domain":["A","B","C","D","E"],"range":["#ababab","#8c1a14","#165224","#a15fc2","#3ab5b8"]}},
  "size":{"field":"s","type":"nominal","scale":{"domain":["A","B","C","D","E"],"range":[70,110,75,45,65]}}}},
{"data":{"values":[{"x":133.6,"y":0.18,"t":"Saline"}]},
 "mark":{"type":"text","color":"#4aa3e8","font":"Liberation Sans","fontSize":33,"align":"center","baseline":"middle"},
 "encoding":{"x":{"field":"x","type":"quantitative"},"y":{"field":"y","type":"quantitative"},"text":{"field":"t"}}},
{"data":{"values":[{"x":128.2,"y":0.1703},{"x":133.6,"y":0.1566}]},
 "mark":{"type":"line","color":"#7b3fbf","strokeWidth":2},
 "encoding":{"x":{"field":"x","type":"quantitative"},"y":{"field":"y","type":"quantitative"}}},
{"data":{"values":[{"x":2.6,"x2":143.9,"y":0.197,"y2":0.33}]},
 "mark":{"type":"rect","color":"white","opacity":1},
 "encoding":{"x":{"field":"x","type":"quantitative"},"x2":{"field":"x2"},"y":{"field":"y","type":"quantitative"},"y2":{"field":"y2"}}},
{"data":{"values":[{"x":7.6,"x2":136.8,"y":0.2353},{"x":7.6,"x2":63,"y":0.2148}]},
 "mark":{"type":"rule","color":"#6b2a9e","strokeWidth":3},
 "encoding":{"x":{"field":"x","type":"quantitative"},"x2":{"field":"x2"},"y":{"field":"y","type":"quantitative"}}}
]
}
